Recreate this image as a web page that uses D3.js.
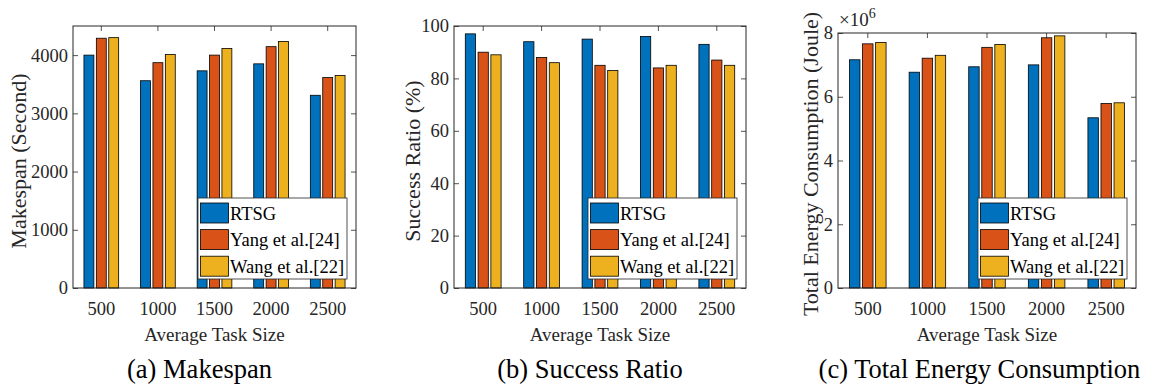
<!DOCTYPE html>
<html>
<head>
<meta charset="utf-8">
<script src="https://cdn.jsdelivr.net/npm/d3@7"></script>
<style>
  body { margin: 0; background: #fff; }
</style>
</head>
<body>
<svg id="chart" width="1150" height="387"></svg>
<script>
// categories and series
var taskSizes = ["500", "1000", "1500", "2000", "2500"];
var methods = ["RTSG", "Yang et al.[24]", "Wang et al.[22]"];
var colors = ["#0072BD", "#D95319", "#EDB120"];

// (a) makespan, seconds
var makespanRTSG = [4000, 3560, 3730, 3850, 3310];
var makespanYang = [4290, 3870, 4000, 4145, 3615];
var makespanWang = [4300, 4010, 4115, 4235, 3650];

// (b) success ratio, %
var successRTSG = [97, 94, 95, 96, 93];
var successYang = [90, 88, 85, 84, 87];
var successWang = [89, 86, 83, 85, 85];

// (c) energy, joule
var energyRTSG = [7.16e6, 6.77e6, 6.94e6, 7.00e6, 5.34e6];
var energyYang = [7.66e6, 7.21e6, 7.55e6, 7.85e6, 5.79e6];
var energyWang = [7.70e6, 7.30e6, 7.64e6, 7.91e6, 5.81e6];

var makespanTicks = [0, 1000, 2000, 3000, 4000];
var successTicks = [0, 20, 40, 60, 80, 100];
var energyTicks = [0, 2e6, 4e6, 6e6, 8e6];

var svg = d3.select("#chart");
var axisColor = "#262626";

var panels = [
    { box: {left: 73, right: 356, top: 26, bottom: 288}, max: 4500,
      series: [makespanRTSG, makespanYang, makespanWang], ticks: makespanTicks,
      fmt: function(d) { return d; }, ylabel: "Makespan (Second)", ylabelX: 26, ylabelY: 161,
      caption: "(a) Makespan", captionX: 199.5 },
    { box: {left: 454, right: 746, top: 26, bottom: 288}, max: 100,
      series: [successRTSG, successYang, successWang], ticks: successTicks,
      fmt: function(d) { return d; }, ylabel: "Success Ratio (%)", ylabelX: 420, ylabelY: 161,
      caption: "(b) Success Ratio", captionX: 590 },
    { box: {left: 838, right: 1136, top: 33, bottom: 288}, max: 8e6,
      series: [energyRTSG, energyYang, energyWang], ticks: energyTicks,
      fmt: function(d) { return d / 1e6; }, ylabel: "Total Energy Consumption (Joule)",
      ylabelX: 818, ylabelY: 164,
      caption: "(c) Total Energy Consumption", captionX: 979.5, exponent: true }
];

panels.forEach(function(p) {
    var b = p.box;
    var g = svg.append("g");

    var x = d3.scaleBand().domain(taskSizes).range([b.left, b.right]).padding(0);
    var groupW = x.bandwidth() * 0.657;
    var xInner = d3.scaleBand().domain(d3.range(methods.length))
        .range([0, groupW]).paddingInner(0.2).paddingOuter(0.1);
    var y = d3.scaleLinear().domain([0, p.max]).range([b.bottom, b.top]);

    // ticks (inward, MATLAB style)
    var left = g.append("g").attr("transform", "translate(" + b.left + ",0)")
        .call(d3.axisLeft(y).tickValues(p.ticks).tickSize(-5).tickSizeOuter(0)
            .tickPadding(5).tickFormat(p.fmt));
    var right = g.append("g").attr("transform", "translate(" + b.right + ",0)")
        .call(d3.axisRight(y).tickValues(p.ticks).tickSize(-5).tickSizeOuter(0).tickFormat(""));
    var top = g.append("g").attr("transform", "translate(0," + b.top + ")")
        .call(d3.axisTop(x).tickSize(-5).tickSizeOuter(0).tickFormat(""));
    var bottom = g.append("g").attr("transform", "translate(0," + b.bottom + ")")
        .call(d3.axisBottom(x).tickSize(-5).tickSizeOuter(0).tickPadding(14));

    [left, right, top, bottom].forEach(function(a) {
        a.attr("font-family", null).attr("font-size", null);
        a.selectAll("path.domain").remove();
        a.selectAll("line").attr("stroke", axisColor).attr("stroke-width", 0.8);
        a.selectAll("text").attr("fill", axisColor).style("font-size", "18.5px");
    });

    // bars
    p.series.forEach(function(vals, si) {
        g.append("g").selectAll("rect")
            .data(vals)
            .enter().append("rect")
            .attr("x", function(d, i) {
                return x(taskSizes[i]) + x.bandwidth() / 2 - groupW / 2 + xInner(si);
            })
            .attr("y", function(d) { return y(d); })
            .attr("width", xInner.bandwidth())
            .attr("height", function(d) { return b.bottom - y(d); })
            .attr("fill", colors[si])
            .attr("stroke", "#000")
            .attr("stroke-width", 0.8);
    });

    // frame
    g.append("rect")
        .attr("x", b.left).attr("y", b.top)
        .attr("width", b.right - b.left).attr("height", b.bottom - b.top)
        .attr("fill", "none").attr("stroke", axisColor).attr("stroke-width", 1);

    // exponent label
    if (p.exponent) {
        var ex = g.append("text").attr("x", b.left + 1).attr("y", 26)
            .attr("fill", axisColor).style("font-size", "19px");
        ex.append("tspan").text("\u00d710");
        ex.append("tspan").attr("dy", -8).style("font-size", "14px").text("6");
    }

    // legend
    var lx = b.right - 158, ly = b.bottom - 90;
    var leg = g.append("g").attr("transform", "translate(" + lx + "," + ly + ")");
    leg.append("rect").attr("width", 149).attr("height", 81)
        .attr("fill", "#fff").attr("stroke", axisColor).attr("stroke-width", 0.8);
    methods.forEach(function(m, i) {
        leg.append("rect").attr("x", 2.5).attr("y", 5 + i * 26.6)
            .attr("width", 28).attr("height", 20)
            .attr("fill", colors[i]).attr("stroke", "#000").attr("stroke-width", 0.8);
        leg.append("text").attr("x", 32).attr("y", 21.5 + i * 26.6)
            .style("font-size", "18.5px").attr("fill", "#000").text(m);
    });

    // axis labels
    g.append("text").attr("x", (b.left + b.right) / 2).attr("y", 341)
        .attr("text-anchor", "middle").style("font-size", "19px").attr("fill", axisColor)
        .text("Average Task Size");
    g.append("text")
        .attr("transform", "translate(" + p.ylabelX + "," + p.ylabelY + ") rotate(-90)")
        .attr("text-anchor", "middle").style("font-size", "22px").attr("fill", axisColor)
        .text(p.ylabel);

    // caption
    g.append("text").attr("x", p.captionX).attr("y", 378)
        .attr("text-anchor", "middle").style("font-size", "26.5px").attr("fill", "#000")
        .text(p.caption);
});

// Times-like face everywhere
svg.selectAll("text").style("font-family", "'Liberation Serif'");
</script>
</body>
</html>
